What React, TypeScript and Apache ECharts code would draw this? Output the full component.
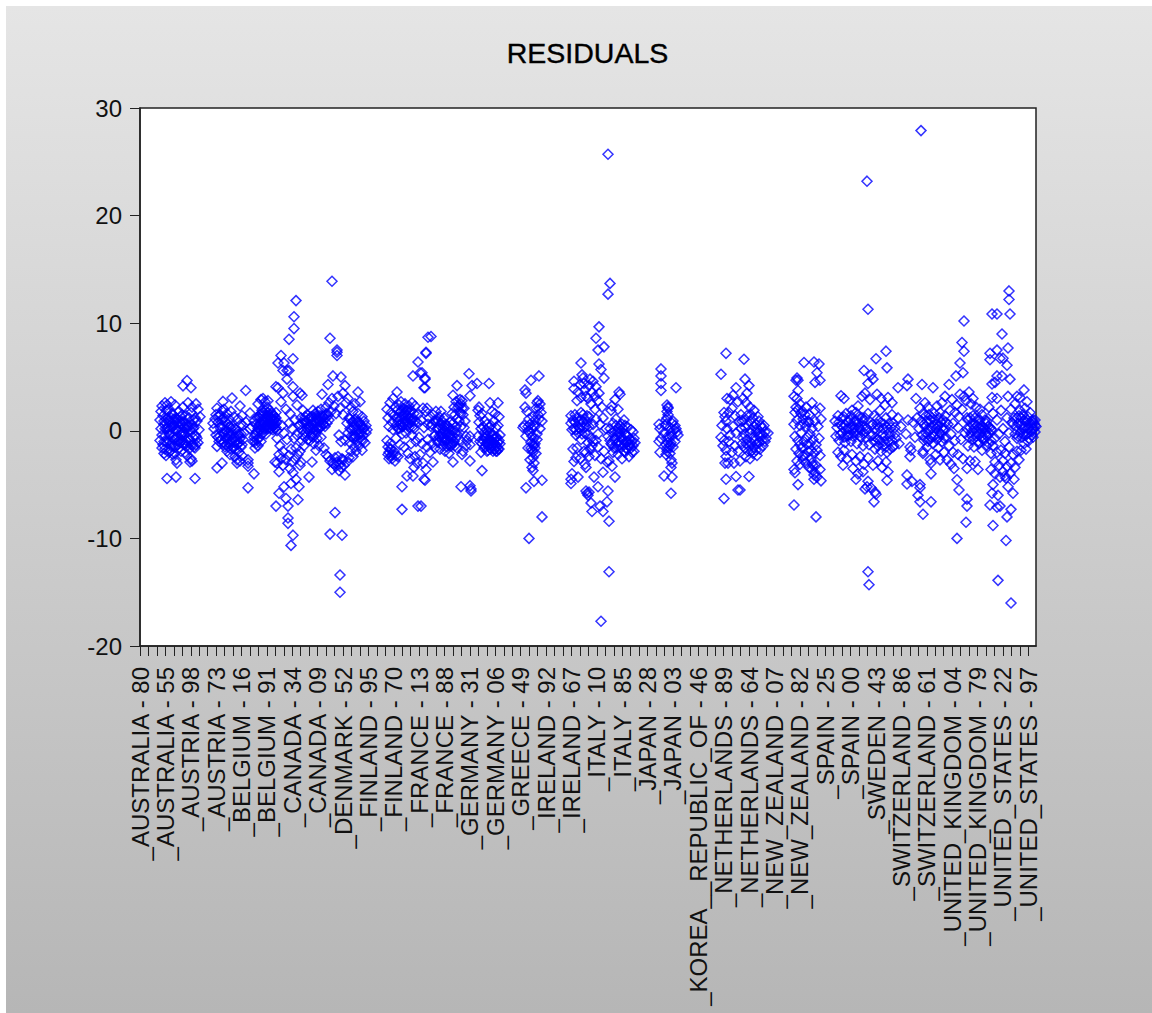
import React, { useEffect, useRef } from "react";
import * as echarts from "echarts";

const tickLabels = [
  "_AUSTRALIA - 80", "_AUSTRALIA - 55", "_AUSTRIA - 98", "_AUSTRIA - 73", "_BELGIUM - 16", "_BELGIUM - 91",
  "_CANADA - 34", "_CANADA - 09", "_DENMARK - 52", "_FINLAND - 95", "_FINLAND - 70", "_FRANCE - 13",
  "_FRANCE - 88", "_GERMANY - 31", "_GERMANY - 06", "_GREECE - 49", "_IRELAND - 92", "_IRELAND - 67",
  "_ITALY - 10", "_ITALY - 85", "_JAPAN - 28", "_JAPAN - 03", "_KOREA__REPUBLIC_OF - 46", "_NETHERLANDS - 89",
  "_NETHERLANDS - 64", "_NEW_ZEALAND - 07", "_NEW_ZEALAND - 82", "_SPAIN - 25", "_SPAIN - 00", "_SWEDEN - 43",
  "_SWITZERLAND - 86", "_SWITZERLAND - 61", "_UNITED_KINGDOM - 04", "_UNITED_KINGDOM - 79", "_UNITED_STATES - 22", "_UNITED_STATES - 97",
];
const yTicks = { min: -20, max: 30, step: 10 };
const obsPerLabel = 25.38;
const obsTotal = 896;

const australia = [
  [20,1.0],[20,-0.9],[21,1.8],[21,0.2],[22,2.3],[22,-0.4],[23,1.4],[23,-1.3],[24,0.9],[24,-2.1],[25,2.6],[25,-1.7],[26,1.9],[26,-2.3],[27,2.4],[27,-1.1],[28,1.2],[28,0.3],[29,-0.3],[29,-2.0],[30,0.8],[30,-1.9],[31,2.7],[31,-1.4],[32,1.6],[32,0.4],[33,-0.6],[33,-2.2],[34,0.5],[34,1.1],[35,2.4],[35,-1.5],[36,1.2],[36,-2.7],[37,0.1],[37,-3.0],[38,-1.0],[38,0.7],[39,1.8],[39,-1.6],[40,-0.2],[40,0.9],[41,0.7],[41,-1.9],[42,-0.9],[42,1.5],[43,2.2],[43,-1.2],[44,0.9],[44,-0.4],[45,-0.3],[45,-2.0],[46,1.4],[46,0.2],[47,-1.4],[47,-2.3],[48,2.6],[48,0.5],[49,0.4],[49,-1.7],[50,-0.8],[50,-2.9],[51,1.7],[51,-2.6],[52,2.2],[52,-2.8],[53,0.2],[53,-1.3],[54,-1.5],[54,1.0],[55,1.2],[55,-1.6],[56,2.5],[56,-0.5],[57,0.9],[57,-0.7],[58,2.0],[58,-1.1],[59,0.1],[60,1.3],
  [27,-4.43],[36,-4.3],[55,-4.43],[47,4.67],[43,4.18],[51,4.0],[34,-0.8],[38,-0.5],[42,-0.2],[44,0.3],[31,0.3],[36,0.1],
];
const australiaDense = [
  [24,0.6],[25,-0.5],[26,1.1],[27,0.2],[28,-0.9],[29,0.9],[30,-0.4],[31,1.2],[32,-1.1],[33,0.4],[34,-1.4],[35,0.8],[36,-0.7],[37,1.1],[38,-1.3],[39,0.4],[40,-1.1],[41,-0.4],[42,0.6],[43,-0.2],[44,-1.3],[45,0.7],[46,-0.9],[47,0.4],[48,-0.8],[49,1.2],[50,0.1],[51,-1.3],[52,0.6],[53,-0.6],[54,0.3],[55,-0.4],[56,-1.3],[25,0.2],[28,1.9],[33,1.5],[22,-1.6],[24,-1.0],[35,-2.1],[30,0.1],[41,1.3],[46,-1.2],
];
const austria = [
  [73,0.7],[74,0.2],[75,1.1],[76,-0.4],[77,2.1],[77,-1.45],[77,-3.46],[78,0.8],[79,-1.0],[80,0.3],[80,1.5],[81,-0.8],[82,-3.0],[82,1.9],[83,2.73],[83,0.5],[84,-0.3],[84,1.2],[85,-1.5],[85,0.9],[86,-0.7],[86,0.0],[87,1.6],[87,-1.9],[88,-0.2],[88,0.6],[89,-1.2],[89,1.1],[90,-0.5],[90,-2.2],[91,0.2],[91,1.8],[92,3.04],[92,-0.9],[93,-1.6],[93,0.4],[94,1.3],[94,-0.6],[95,-2.4],[95,-1.0],[96,0.1],[96,-1.7],[97,-3.0],[97,-2.7],[98,1.1],[98,-1.2],[99,-2.0],[99,-0.4],[100,2.3],[100,-2.8],[101,-1.5],[101,0.6],[102,1.4],[102,-2.3],[103,0.5],[104,-0.2],[105.7,3.75],[106,0.8],[108,-5.3],[108,-3.3],[108,-2.7],[108,-3.0],[110,1.65],[110,0.2],[114,-4.0],
];
const austriaDense = [
  [80,-0.5],[81,0.4],[82,-1.2],[83,-0.2],[84,-1.1],[85,0.1],[86,-1.3],[87,-0.6],[88,-1.5],[89,-0.2],[90,0.4],[91,-1.0],[91,-1.7],[92,-0.2],[93,-0.7],[94,-1.4],[95,0.2],[96,-0.6],[97,-1.3],[98,-0.3],[99,-1.1],[100,-0.7],[101,-0.3],[102,-1.3],[103,-0.8],[76,1.5],[78,-0.6],[79,1.4],[82,1.0],[84,2.0],
];
const belgium = [
  [112,0.4],[113,-1.0],[114,0.9],[115,-1.6],[115,-0.4],[116,0.6],[116,-1.2],[117,1.2],[117,-0.1],[118,2.5],[118,-1.4],[119,0.5],[119,-0.7],[120,1.5],[120,0.1],[121,2.9],[121,-1.0],[122,1.0],[122,0.4],[123,3.0],[123,-0.2],[124,0.8],[124,1.7],[125,2.7],[125,0.2],[126,1.2],[126,-0.3],[127,0.6],[127,2.2],[128,2.8],[128,1.0],[129,0.3],[129,1.4],[130,1.9],[130,0.7],[131,0.2],[131,1.2],[132,1.6],[132,0.6],[133,0.9],[133,0.1],[134,1.4],[134,0.5],[135,1.0],[135,0.2],[136,1.7],[137,0.8],[137,0.0],
];
const belgiumDense = [
  [118,0.2],[119,1.2],[120,0.7],[121,0.0],[121,1.6],[122,-0.3],[122,1.9],[123,0.6],[123,1.4],[124,0.1],[125,1.0],[125,1.9],[126,0.5],[127,1.4],[128,0.2],[128,1.7],[129,0.8],[130,1.2],[131,0.6],[132,1.1],[133,0.4],[133,1.5],[134,1.0],[135,0.6],[136,1.2],[136,0.3],[114,-0.6],[115,-1.0],[116,-0.3],[117,-0.8],
];
const canada = [
  [156,12.1],[154,10.6],[154,9.5],[149,8.5],[141,7.0],[153,6.7],[138,6.3],[144,6.3],[147,5.6],[143,5.6],[149,5.6],[147,4.8],[136,4.1],[138,4.0],[153,4.1],[160,3.5],[162,3.3],[143,3.5],[153,3.2],[141,2.7],[146,2.0],[150,1.6],[157,2.4],[163,1.9],[165,1.3],[135,1.2],[137,-0.7],[140,-1.4],[142,0.5],[144,-0.2],[147,-0.8],[149,0.7],[151,-1.7],[152,0.2],[154,-0.7],[155,1.0],[156,-1.6],[157,-0.4],[159,0.5],[160,-1.9],[162,-0.9],[163,0.7],[139,-2.2],[141,-2.6],[143,-1.9],[146,-2.7],[149,-2.3],[152,-2.9],[155,-2.6],[158,-2.2],[161,-2.9],[164,-1.4],
  [151,-10.65],[153,-9.7],[148,-8.6],[148,-8.1],[148,-7.0],[136,-7.0],[158,-6.4],[146,-6.3],[139,-5.8],[159,-5.2],[144,-5.2],[151,-4.9],[156,-4.5],[153,-3.9],[139,-3.8],[169,-4.3],[172,-2.9],[135,-2.9],[137,-3.0],[143,-3.2],[150,-3.5],[160,-3.2],
];
const denmark = [
  [165,0.8],[166,-0.1],[167,1.5],[168,0.4],[169,1.0],[170,-0.9],[170,0.1],[171,1.3],[172,0.6],[172,-0.4],[173,1.9],[173,0.2],[174,-1.2],[174,0.9],[175,1.6],[175,0.0],[176,-1.8],[176,0.7],[177,1.2],[177,-0.7],[178,0.3],[178,1.8],[179,-1.4],[179,0.9],[180,1.4],[180,0.3],[181,-0.6],[181,2.0],[182,3.4],[182,0.8],[183,1.3],[184,-1.6],[184,0.6],[185,1.1],[186,-2.2],[186,2.2],[187,1.6],[188,4.3],[188,-2.4],[189,2.6],[190,8.6],[190,-9.6],[190,-2.8],[191,1.8],[192,-3.6],[192,3.0],[193,5.1],[193,-3.0],[194,2.3],[195,-7.6],[195,-2.5],[196,1.6],[197,7.5],[197,7.3],[197,7.0],[197,-2.9],[198,3.2],[199,-3.7],[199,-0.4],[200,-15.0],[200,-13.4],[200,2.1],[200,-3.1],[201,5.0],[201,-1.0],[202,-9.7],[202,-2.6],[203,3.5],[203,1.5],[204,-3.2],[205,4.2],[205,-4.1],[205,-0.9],[206,2.6],[207,0.7],[207,-2.9],[208,-0.2],[208,3.0],[209,1.2],[209,-2.5],[210,0.2],[210,-1.1],[211,2.2],[211,-1.9],[212,0.8],[212,-0.6],[213,1.8],[213,-2.4],[214,-1.5],[214,0.3],[215,2.5],[215,-0.5],[216,1.1],[216,-1.9],[217,0.1],[217,-1.0],[218,3.6],[218,1.6],[219,0.8],[219,-1.4],[220,-0.2],[220,2.7],[221,0.5],[221,-0.9],[222,1.3],[222,-1.8],[223,0.2],[223,-0.4],[224,0.9],[225,-1.1],[226,-0.2],[226,0.5],[227,0.1],[192,13.9],
];
const denmarkDense = [
  [160,0.6],[161,1.2],[162,0.1],[163,-0.4],[164,1.0],[165,-0.6],[166,0.9],[167,0.2],[168,-0.8],[169,0.3],[170,1.2],[171,0.4],[171,-0.5],[172,1.3],[173,-0.6],[174,0.3],[175,0.8],[176,1.4],[176,-0.3],[177,0.3],[178,1.1],[179,0.2],[180,0.9],[181,0.4],[182,1.4],[183,0.6],[184,1.3],[185,0.4],[186,1.5],[187,0.7],[188,1.4],[189,1.0],[210,1.1],[211,-0.5],[212,0.1],[213,0.9],[214,-0.7],[215,0.5],[216,-0.5],[217,0.8],[218,-0.4],[219,0.1],[220,0.7],[221,-0.3],[222,0.4],[223,-0.9],[224,0.2],[194,-3.1],[196,-3.3],[198,-2.4],[201,-3.4],[203,-2.7],
];
const finland = [
  [247,-0.9],[247,2.0],[248,1.2],[248,-1.5],[249,0.4],[249,-2.0],[250,2.6],[250,-1.7],[251,1.7],[251,-2.3],[252,0.8],[252,-2.6],[253,3.0],[253,0.1],[254,-1.9],[254,1.4],[255,2.2],[255,-2.8],[256,-0.7],[256,0.5],[257,3.6],[257,1.2],[258,-2.4],[258,0.9],[259,2.4],[259,0.2],[260,1.7],[260,-1.3],[261,0.6],[261,2.7],[262,-7.3],[262,-5.2],[262,1.2],[262,-0.3],[263,0.4],[263,2.1],[264,1.5],[264,-1.5],[265,0.9],[265,2.5],[266,1.9],[266,-0.2],[267,-4.2],[267,0.6],[268,1.4],[268,-2.1],[269,2.3],[269,0.3],[270,1.7],[270,-2.6],[271,0.9],[271,-1.2],[272,2.6],[272,-0.4],[273,5.1],[273,-4.2],[273,1.2],[274,-3.4],[274,0.2],[275,2.3],[275,-2.4],[276,-1.0],[277,0.8],[277,-3.0],[278,6.4],[278,-7.0],[278,1.5],[279,-0.6],[280,5.4],[280,-2.2],[281,-7.0],[281,1.0],[282,5.4],[282,-1.2],[283,2.1],[283,-3.0],[284,4.0],[284,-4.5],[284,0.3],[285,4.9],[285,4.8],[285,4.0],[285,-4.6],[286,7.3],[286,7.2],[286,-3.6],[286,1.8],[287,-1.5],[288,8.7],[288,0.6],
];
const finlandDense = [
  [257,1.9],[258,0.2],[259,1.3],[260,0.6],[261,1.8],[262,0.4],[263,1.4],[264,0.6],[265,1.6],[266,0.9],[267,1.9],[268,0.5],[269,1.2],[270,0.7],[271,1.9],[272,1.0],[273,0.4],[274,1.6],[275,0.9],[248,-2.2],[249,-2.6],[250,-1.2],[251,-1.7],[253,-2.2],[256,-2.3],
];
const france = [
  [287,2.1],[288,-0.8],[289,1.2],[290,-2.0],[291,8.76],[291,0.4],[292,-1.2],[293,-2.9],[293,1.5],[294,0.9],[295,-0.4],[295,-1.6],[296,1.8],[297,0.2],[298,-1.1],[298,0.9],[299,1.3],[299,-0.5],[300,-1.7],[300,0.5],[301,1.8],[301,-0.2],[302,-0.9],[302,0.9],[303,0.2],[303,-1.4],[304,-0.6],[304,1.2],[305,0.0],[305,-1.9],[306,-0.9],[306,0.6],[307,-0.3],[307,-1.5],[308,0.4],[308,-0.8],[309,-0.2],[309,-2.1],[310,-1.2],[310,0.8],[311,0.1],[311,-0.7],[312,-1.3],[312,1.6],[313,3.3],[313,-2.9],[313,0.7],[314,2.2],[314,-1.0],[315,1.5],[315,-0.2],[316,2.7],[316,0.4],[317,4.2],[317,1.1],[317,-1.6],[318,2.2],[318,-0.4],[319,0.9],[320,2.9],[320,1.7],[320,-0.8],[321,-5.2],[321,2.5],[321,0.4],[322,-2.2],[322,2.8],[323,1.5],[323,-1.9],[324,0.3],[324,2.1],[325,0.9],[326,-0.5],[326,-1.4],[327,-0.9],[329,5.3],[330,3.25],[330,-0.5],[330,-1.3],[330,-2.8],[330,-5.1],[331,-5.6],[331,-5.4],[332,4.2],[337,4.4],
];
const franceDense = [
  [292,0.6],[294,-0.5],[296,0.9],[297,-0.9],[299,0.2],[300,-0.6],[301,0.7],[302,-0.2],[303,-0.6],[304,0.4],[305,-0.9],[306,-0.2],[307,0.5],[308,-1.3],[309,0.2],[310,-0.4],[311,-1.4],[312,-0.4],[313,-1.2],[314,0.0],[315,-1.4],[316,-0.7],[319,2.4],[321,1.6],[322,2.1],
];
const germany = [
  [338,1.9],[338,-0.5],[339,2.2],[339,0.8],[340,1.4],[340,-1.0],[341,0.2],[341,-2.0],[342,-3.7],[342,1.6],[343,0.4],[343,-0.9],[344,-0.2],[344,-1.6],[345,0.9],[345,-0.7],[346,-1.2],[346,0.1],[347,-1.9],[347,0.6],[348,-0.4],[348,-1.3],[349,4.4],[349,-0.8],[349,0.3],[350,2.6],[350,-1.6],[350,-0.2],[351,-0.9],[351,0.5],[352,1.8],[352,-1.3],[353,-0.4],[353,-1.9],[354,0.9],[354,-1.1],[355,1.6],[355,-1.7],[356,-0.6],[356,0.3],[357,-1.5],[357,-1.9],[358,2.6],[358,-1.1],[358,0.5],[359,-1.7],[359,1.3],[360,-0.4],[360,-1.2],
];
const germanyDense = [
  [342,-1.2],[344,-0.6],[345,-1.5],[346,-0.5],[347,-1.1],[348,-1.8],[349,-1.3],[350,-0.8],[351,-1.7],[352,-0.5],[353,-1.1],[354,-1.7],[355,-0.7],[356,-1.3],[357,-0.6],[358,-1.7],[359,-0.9],[356,-1.9],
];
const greece = [
  [399,5.1],[391,4.7],[385,3.8],[386,3.5],[385,2.2],[397,2.6],[399,2.1],[400,2.5],[401,1.7],[387,1.8],[389,1.1],[393,1.3],[395,1.0],[402,0.9],[384,0.5],[388,0.4],[390,-0.2],[392,0.2],[395,0.4],[397,-0.3],[400,0.2],[383,0.3],[386,-0.5],[393,-1.2],[394,-0.7],[391,-1.1],[395,-1.6],[392,-1.8],[396,-2.1],[393,-2.5],[390,-2.7],[394,-3.0],[392,-3.4],[393,-3.7],[394,-4.7],[402,-4.6],[386,-5.3],[402,-8.0],[389,-10.0],[398,1.5],[388,-1.6],
  [396,2.1],[398,2.8],[399,1.1],[388,0.0],[390,0.6],[392,-0.5],[394,0.5],[391,-1.6],[393,-2.0],[395,-1.2],[397,-0.8],[394,-1.4],
];
const ireland = [
  [459,9.66],[456,8.6],[464,7.8],[458,7.5],[441,6.3],[459,6.2],[461,5.7],[464,4.9],[442,5.2],[443,4.9],[434,4.6],[434,3.9],[440,4.3],[445,3.8],[450,4.8],[452,3.6],[456,4.1],[459,3.5],[448,3.0],[451,2.5],[455,2.0],[458,2.8],[462,2.2],[437,2.8],[435,1.5],[439,0.3],[441,1.7],[443,0.8],[445,-0.2],[447,1.4],[449,0.4],[451,-0.7],[453,0.6],[456,1.1],[458,-0.3],[460,0.6],[463,1.2],[466,0.2],[432,0.1],[431,1.4],[436,-0.4],[433,-1.7],[437,-1.6],[441,-0.8],[444,-1.9],[436,-2.5],[440,-2.6],[446,-2.0],[449,-2.4],[452,-1.4],[455,-2.3],[458,-1.5],[461,-2.6],[464,-1.9],[467,-2.9],[445,-3.1],[434,-2.85],[446,-3.4],[463,-3.85],[431,-4.9],[431,-4.5],[432,-4.0],[438,-4.3],[454,-4.3],[475,-4.3],[458,-5.2],[447,-5.8],[448,-6.0],[446,-5.6],[449,-5.7],[468,-5.6],[451,-6.7],[467,-6.6],[460,-7.0],[452,-7.5],[463,-7.5],[469,-8.4],[469,-13.1],[461,-17.7],
];
const irelandDense = [
  [431,0.7],[433,1.0],[434,0.2],[435,0.8],[436,0.1],[437,1.2],[438,-0.2],[439,0.9],[440,0.2],[441,1.0],[442,-0.3],[443,1.5],[444,0.3],[445,1.1],[446,0.4],[447,0.8],[448,-0.3],[449,1.3],[446,3.2],[449,4.2],[453,4.6],[455,3.2],[444,4.4],[438,3.6],[441,3.1],[456,-0.9],[453,-1.0],[450,-1.7],[448,-1.1],
];
const italy = [
  [468,25.7],[470,13.7],[468,12.7],[472,2.3],[475,2.9],[478,2.0],[479,3.6],[480,3.4],[473,0.7],[476,1.1],[480,0.5],[484,1.0],[468,-0.5],[470,0.2],[471,-1.2],[472,-0.2],[473,-2.0],[474,-0.8],[475,0.0],[476,-1.6],[477,-0.4],[478,-2.2],[479,-1.0],[480,-0.2],[481,-1.6],[482,-0.7],[482,-2.6],[483,0.2],[484,-1.3],[485,-0.3],[485,-2.0],[486,-1.0],[487,0.4],[487,-1.7],[488,-0.5],[489,-1.3],[489,-2.4],[490,-0.8],[491,-1.6],[491,0.1],[492,-1.0],[492,-2.0],[493,-0.1],[493,-1.4],[494,-0.7],[494,-1.9],[495,-1.1],[469,-2.8],[472,-3.3],[471,1.9],
  [470,-0.9],[472,-1.3],[474,-1.6],[475,-0.7],[477,-1.2],[478,-0.1],[480,-1.3],[481,-0.5],[483,-0.9],[484,-1.9],[486,-0.4],[486,-1.6],[488,-1.0],[490,-1.4],[476,0.5],[479,0.2],[482,0.6],[485,0.5],
];
const japan = [
  [521,5.75],[521,5.1],[521,4.4],[521,3.75],[536,4.0],[527,2.4],[528,2.1],[527,1.8],[528,1.5],[526,1.0],[519,0.6],[520,0.2],[525,0.5],[532,0.7],[535,0.5],[537,-0.1],[538,-0.4],[534,0.1],[531,-0.2],[527,-0.6],[524,-0.2],[519,-1.0],[521,-0.7],[526,-1.3],[529,-1.6],[531,-1.1],[533,-1.5],[535,-1.0],[527,-1.9],[530,-2.1],[520,-2.0],[526,-2.2],[531,-2.7],[532,-3.0],[531,-3.4],[524,-4.2],[532,-4.3],[531,-5.8],
  [528,2.2],[527,1.2],[526,0.6],[530,0.3],[533,0.9],[536,0.2],[528,-1.1],[530,-1.4],[527,-1.6],[529,-0.6],[532,-0.5],
];
const netherlands = [
  [586,7.2],[581,5.26],[596,4.0],[587,3.0],[593,3.3],[590,2.9],[584,1.7],[585,1.3],[582,0.5],[586,0.9],[589,1.7],[592,2.1],[595,1.4],[598,2.7],[581,-0.6],[584,-0.9],[587,0.2],[590,-0.4],[593,0.4],[596,-0.2],[599,0.9],[583,-1.4],[586,-1.8],[589,-1.0],[592,-2.0],[595,-1.4],[598,-1.9],[585,-3.0],[588,-3.0],[594,-3.0],[586,-2.4],[584,-6.3],[586,-4.5],[596,-4.25],[598,-5.5],[600,-5.5],[609,-4.25],[604,6.65],[605,4.8],[609,4.2],[607,3.5],[603,3.0],[606,2.6],[610,2.2],[614,1.9],[601,1.5],[604,1.0],[607,1.4],[610,0.9],[613,1.2],[616,0.6],[619,0.9],[622,0.3],[601,0.2],[604,-0.3],[607,-0.8],[610,-0.2],[613,-0.6],[616,-0.1],[619,-0.5],[622,-0.9],[625,-0.1],[628,-0.2],[602,-1.2],[605,-1.6],[608,-1.9],[611,-1.1],[614,-1.5],[617,-1.2],[620,-1.7],[623,-1.4],[606,-2.4],[610,-2.6],[613,-2.1],[617,-2.3],[600,-2.8],[626,-0.7],
  [602,0.9],[605,0.3],[608,0.5],[611,1.5],[612,-1.8],[614,0.4],[615,-0.9],[617,0.2],[618,1.3],[620,-0.2],[621,0.5],[623,-0.4],[624,0.5],[625,-1.0],[603,-0.7],[606,-1.2],[609,-1.4],[611,0.1],[616,-1.8],[619,-1.1],
];
const newZealand = [
  [664,6.35],[674,6.4],[679,6.2],[677,5.4],[680,4.7],[675,4.5],[657,4.9],[658,4.7],[654,3.2],[658,3.75],[656,2.2],[655,1.7],[660,2.5],[663,1.8],[666,2.2],[669,1.5],[672,2.6],[675,1.9],[680,2.1],[654,0.6],[657,1.0],[660,0.5],[663,1.1],[666,0.4],[669,0.8],[672,0.2],[675,0.9],[678,0.4],[681,1.1],[655,-0.5],[658,-0.9],[661,-0.2],[664,-1.0],[667,-0.6],[670,-1.2],[673,-0.8],[676,-1.3],[679,-0.7],[656,-1.7],[659,-2.1],[662,-1.6],[665,-2.3],[668,-1.9],[671,-2.6],[674,-2.1],[677,-1.8],[680,-2.3],[657,-2.8],[660,-3.1],[663,-2.7],[666,-3.0],[669,-3.4],[672,-3.0],[676,-3.2],[680,-3.6],[655,-3.9],[654,-3.6],[658,-5.0],[674,-4.5],[675,-3.9],[677,-4.3],[681,-4.65],[654,-6.9],[676,-8.0],
  [661,1.6],[664,0.7],[665,1.5],[667,-1.3],[668,0.9],[670,-0.3],[671,-1.8],[672,-3.6],[673,-3.2],[674,-4.1],[663,-2.3],[660,-1.3],[658,2.0],[657,3.0],[656,4.7],
];
const spain = [
  [728,11.3],[727,23.2],[746,7.4],[736,6.7],[747,5.85],[724,5.6],[731,5.2],[733,4.8],[728,4.4],[725,3.5],[722,3.2],[730,2.9],[701,3.25],[704,3.0],[737,3.4],[741,3.0],[745,2.4],[748,3.1],[752,2.6],[758,4.0],[767,4.2],[768,4.8],[718,2.3],[712,1.9],[695,0.9],[698,1.4],[701,0.5],[704,1.3],[707,0.2],[710,1.0],[713,0.1],[716,0.9],[719,0.3],[722,1.2],[725,0.4],[728,1.6],[731,0.5],[734,1.4],[737,0.6],[740,1.9],[743,0.2],[746,1.2],[749,0.7],[752,1.5],[755,0.3],[758,1.2],[761,0.4],[696,-0.5],[699,-0.9],[702,-0.2],[705,-1.1],[708,-0.4],[711,-1.0],[714,-0.2],[717,-1.2],[720,-0.5],[723,-1.4],[726,-0.6],[729,-1.3],[732,-0.4],[735,-1.7],[738,-0.8],[741,-1.9],[744,-1.0],[747,-2.0],[750,-0.5],[753,-1.5],[756,-0.7],[759,-1.2],[698,-2.0],[701,-2.4],[704,-1.8],[707,-2.6],[712,-2.2],[716,-2.8],[720,-2.4],[724,-3.1],[728,-2.5],[733,-3.2],[738,-2.8],[742,-3.4],[746,-2.9],[703,-3.2],[713,-3.5],[718,-4.0],[716,-4.5],[723,-3.8],[728,-4.7],[725,-5.4],[727,-5.2],[731,-5.3],[734,-6.6],[736,-5.9],[735,-5.7],[747,-4.6],[748,-3.8],[728,-13.1],[729,-14.3],
];
const spainDense = [
  [697,0.3],[699,0.8],[700,-0.4],[702,1.2],[703,0.3],[704,-0.6],[705,0.6],[706,1.6],[707,-0.5],[708,0.9],[709,0.2],[710,-0.4],[711,1.4],[712,0.5],[713,-0.5],[714,0.9],[715,0.3],[716,1.7],[717,-0.3],[718,0.7],[719,1.3],[720,0.1],[721,-0.6],[722,0.4],[723,0.9],[724,-0.2],[725,1.2],[726,0.2],
  [731,-0.5],[733,0.6],[734,-1.0],[735,0.2],[736,-0.6],[737,1.1],[738,-1.4],[739,0.3],[740,-0.9],[741,0.8],[742,-0.4],[743,-1.4],[744,0.6],[745,-0.5],[746,-1.5],[747,0.3],[748,-1.0],[749,-0.2],[750,-1.7],[751,0.3],[752,-0.9],[753,0.7],[754,-1.4],[755,-0.3],
];
const sweden = [
  [766,-0.3],[768,1.0],[770,-2.4],[770,-1.5],[771,-1.8],[772,-4.7],[767,-4.95],[767,-4.1],[773,0.8],[775,-0.6],[776,3.0],[778,-6.0],[777,1.2],[779,0.2],[780,-6.6],[780,-5.3],[780,-5.0],[780,2.1],[782,4.3],[781,27.9],[783,-7.75],[783,-1.9],[783,-2.1],[784,0.6],[785,2.6],[785,-0.6],[786,1.4],[787,-1.5],[788,0.2],[788,2.2],[789,-0.8],[790,1.0],[790,-2.7],[791,-6.6],[791,-4.0],[791,-3.0],[792,0.3],[793,4.0],[793,-1.2],[794,1.6],[795,-0.4],[796,-2.2],[797,2.3],[797,0.6],[798,-1.6],[799,1.2],[800,-0.2],[800,-2.7],[801,0.8],[802,-1.0],[802,2.6],[803,0.1],[804,-2.0],[805,3.2],[805,1.4],[806,-0.6],[807,-2.7],[808,0.6],[809,4.3],[809,-1.4],[810,1.9],[811,-0.3],[811,-3.1],[812,2.9],[813,-2.0],[813,0.7],[814,-3.5],[815,1.7],[815,-0.9],[816,5.1],[817,-10.0],[817,-4.55],[817,2.4],[818,-2.2],[818,0.3],[819,-5.5],[819,1.3],[820,6.3],[820,3.4],[821,-0.8],[822,8.2],[822,2.0],[823,5.4],[823,-2.6],[824,10.2],[824,7.4],[824,3.2],[825,-0.2],[826,-8.5],[826,2.8],[827,-7.0],[827,-6.35],[827,-3.5],[827,1.2],[828,-1.4],[829,3.6],[830,0.3],[830,-2.8],[831,2.5],[832,-0.5],[833,1.4],[833,3.0],[834,-1.5],[835,-2.85],[835,0.6],[836,2.2],[837,-0.2],[838,-3.6],[838,1.1],[839,-1.2],[840,2.0],[840,0.2],[841,-0.6],[842,1.5],[842,-1.8],[843,0.3],[844,-0.9],[845,1.0],[846,0.1],[846,-1.4],
];
const swedenDense = [
  [781,0.9],[782,-0.4],[783,1.6],[784,-0.9],[785,0.4],[786,-0.2],[787,0.9],[788,-1.0],[789,1.5],[790,0.1],[791,-0.6],[792,1.2],[793,0.5],[794,-0.5],[795,1.0],[796,0.2],[797,-0.8],[798,0.4],[799,-0.6],[800,1.7],[801,-0.3],[802,0.3],[803,1.0],[804,-0.7],[805,0.2],[806,0.8],
  [827,0.2],[828,1.0],[829,-0.6],[830,1.2],[831,-0.2],[832,0.6],[833,-0.8],[834,0.2],[835,1.2],[836,-0.5],[837,0.5],[838,-1.0],[839,0.3],[840,1.0],[841,-0.2],[842,0.5],[843,-0.7],[844,0.2],[845,-0.3],[846,0.7],[847,-0.5],[848,0.4],[849,-0.2],[850,0.3],[851,-0.9],[852,0.1],
];
const unitedStates = [
  [869,13.0],[869,12.2],[870,10.85],[852,10.85],[857,10.85],[862,9.0],[850,7.2],[857,7.5],[850,6.6],[868,7.7],[860,6.75],[863,6.75],[867,6.1],[857,5.1],[862,5.1],[870,4.8],[852,4.35],[855,4.5],[852,3.1],[857,3.0],[868,3.2],[884,3.8],[877,3.2],[880,3.1],[887,2.7],[847,0.9],[849,2.2],[851,0.1],[853,1.6],[855,-0.7],[857,1.0],[859,-0.3],[861,1.9],[863,0.2],[865,-1.0],[867,1.2],[869,-0.2],[871,2.0],[873,0.6],[875,2.5],[877,1.2],[878,-0.5],[880,1.9],[881,0.6],[882,-0.6],[883,1.5],[884,0.2],[885,2.1],[886,0.8],[887,-0.3],[888,1.3],[889,0.3],[890,1.7],[891,0.6],[892,-0.4],[893,1.0],[893,0.2],[894,0.7],[895,-0.1],[895,1.0],[896,0.4],[849,-1.2],[851,-2.1],[853,-1.4],[855,-2.9],[857,-2.0],[859,-3.2],[861,-1.8],[863,-2.8],[865,-2.1],[867,-3.3],[869,-1.5],[871,-3.0],[873,-2.2],[875,-3.4],[877,-1.9],[879,-2.7],[881,-1.8],[884,-1.2],[886,-1.7],[888,-1.0],[871,-16.0],[858,-13.9],[866,-10.2],[853,-8.8],[867,-8.0],[871,-7.3],[850,-6.9],[857,-7.1],[860,-7.0],[858,-6.0],[852,-5.8],[853,-5.0],[873,-5.8],[868,-5.2],[874,-4.5],[865,-4.2],[863,-3.8],[866,-4.4],[860,-4.3],[855,-4.0],[851,-3.6],[870,-4.0],
];
const unitedStatesDense = [
  [872,0.8],[874,1.2],[875,-0.3],[876,0.4],[877,-0.7],[878,0.7],[879,1.4],[880,-0.2],[881,1.2],[882,0.3],[883,-0.3],[884,1.0],[885,0.4],[886,-0.4],[887,1.0],[888,0.2],[889,-0.7],[890,0.8],[891,-0.1],[892,0.9],[893,-0.6],[894,0.2],[895,0.5],
];

const residuals = [
  ...australia, ...australiaDense, ...austria, ...austriaDense, ...belgium, ...belgiumDense, ...canada,
  ...denmark, ...denmarkDense, ...finland, ...finlandDense, ...france, ...franceDense, ...germany, ...germanyDense,
  ...greece, ...ireland, ...irelandDense, ...italy, ...japan, ...netherlands, ...newZealand, ...spain, ...spainDense,
  ...sweden, ...swedenDense, ...unitedStates, ...unitedStatesDense,
];

export default function App() {
  const ref = useRef<HTMLDivElement>(null);
  useEffect(() => {
    const chart = echarts.init(ref.current!, undefined, { renderer: "svg" });
    const font = "'Liberation Sans', Arial, sans-serif";
    const labelValues = tickLabels.map((_, i) => i * obsPerLabel);
    const tickValues: number[] = [];
    for (let i = 0; i <= (tickLabels.length - 1) * 3; i++) tickValues.push((i * obsPerLabel) / 3);
    chart.setOption({
      animation: false,
      backgroundColor: new echarts.graphic.LinearGradient(0, 0, 0, 1, [
        { offset: 0, color: "#e5e5e5" },
        { offset: 1, color: "#b6b6b6" },
      ]),
      title: {
        text: "RESIDUALS",
        left: 576.5,
        top: 27,
        textAlign: "center",
        textStyle: { fontFamily: font, fontSize: 28.5, fontWeight: "normal", color: "#000", textBorderColor: "#000", textBorderWidth: 0.4 },
      },
      grid: {
        left: 134,
        top: 102,
        width: 896,
        height: 538,
        show: true,
        backgroundColor: "#fff",
        borderColor: "#222",
        borderWidth: 1.5,
      },
      xAxis: {
        type: "value",
        min: 0,
        max: obsTotal,
        splitLine: { show: false },
        axisLine: { onZero: false, lineStyle: { color: "#222", width: 1.5 } },
        axisTick: { length: 10, customValues: tickValues, lineStyle: { color: "#222", width: 1 } },
        axisLabel: {
          rotate: 90,
          margin: 21,
          fontSize: 24,
          fontFamily: font,
          color: "#111",
          customValues: labelValues,
          formatter: (v: number) => tickLabels[Math.round(v / obsPerLabel)] ?? "",
        },
      },
      yAxis: {
        type: "value",
        min: yTicks.min,
        max: yTicks.max,
        interval: yTicks.step,
        splitLine: { show: false },
        axisLine: { show: true, lineStyle: { color: "#222", width: 1.5 } },
        axisTick: { show: true, length: 10, lineStyle: { color: "#222", width: 1 } },
        axisLabel: { margin: 18, fontSize: 24, fontFamily: font, color: "#111" },
      },
      series: [
        {
          type: "scatter",
          data: residuals,
          symbol: "diamond",
          symbolSize: 10,
          silent: true,
          progressive: 0,
          itemStyle: { color: "rgba(0,0,0,0)", borderColor: "#0000ff", borderWidth: 1.5 },
        },
      ],
    });
    return () => chart.dispose();
  }, []);
  return (
    <div
      ref={ref}
      style={{ position: "absolute", left: 6, top: 6, width: 1146, height: 1007 }}
    />
  );
}
